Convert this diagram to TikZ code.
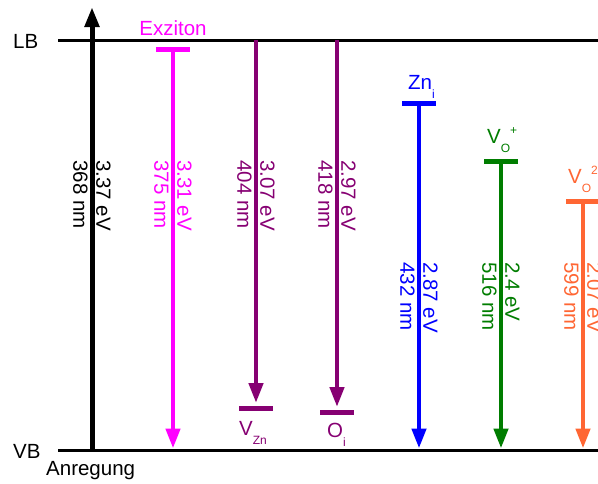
\documentclass[tikz,border=0pt]{standalone}
\usepackage{fontspec}
\setmainfont{Liberation Sans}
\usepackage{tikz}
\usetikzlibrary{arrows.meta}
\definecolor{mymagenta}{RGB}{255,0,255}
\definecolor{mypurple}{RGB}{134,0,114}
\definecolor{myblue}{RGB}{0,0,255}
\definecolor{mygreen}{RGB}{0,125,0}
\definecolor{myorange}{RGB}{255,102,51}
\newcommand{\lsub}[1]{\raisebox{-0.45em}{\fontsize{12}{12}\selectfont #1}}
\newcommand{\lsup}[1]{\raisebox{0.4em}{\fontsize{12}{12}\selectfont #1}}
\tikzset{
  band/.style={line width=3pt, color=black},
  trans/.style={-{Triangle[length=20pt, width=14pt]}, line width=4.5pt, shorten >=1.5pt},
  levelbar/.style={line width=5pt},
  evlabel/.style={rotate=-90, anchor=west, align=left, inner sep=0pt},
  deflabel/.style={anchor=base west, inner sep=0pt}
}
\begin{document}
\begin{tikzpicture}[x=1pt, y=-1pt, every node/.style={font=\fontsize{20.5}{23}\selectfont}]
  \useasboundingbox (0,0) rectangle (598,483);
  \clip (0,0) rectangle (598,483);

  % Bands
  \coordinate (lbL) at (58,40);  \coordinate (lbR) at (600,40);
  \coordinate (vbL) at (58,450); \coordinate (vbR) at (600,450);
  \draw[band] (lbL) -- (lbR);
  \draw[band] (vbL) -- (vbR);
  \node[deflabel] (lb) at (13,48) {LB};
  \node[deflabel] (vb) at (13,458) {VB};

  % --- Anregung ---
  \coordinate (exc) at (92,450);
  \coordinate (exctop) at (92,7);
  \draw[trans, black, line width=5pt, shorten >=0pt] (exc) -- (exctop);
  \node[deflabel] (anr) at (46,475) {Anregung};
  \node[evlabel] (excev) at (92,160) {3.37 eV\\368 nm};

  % --- Exziton ---
  \coordinate (exz) at (173,49);
  \draw[levelbar, mymagenta] (exz) ++(-17,0) -- ++(34,0);
  \draw[trans, mymagenta] (exz) -- (exz |- vbL);
  \node[anchor=base, inner sep=0pt, text=mymagenta] (exzlab) at (173,35) {Exziton};
  \node[evlabel, text=mymagenta] (exzev) at (173,160) {3.31 eV\\375 nm};

  % --- V_Zn ---
  \coordinate (vzn) at (256,408);
  \draw[levelbar, mypurple] (vzn) ++(-17,0) -- ++(34,0);
  \draw[trans, mypurple, shorten >=5pt] (vzn |- lbL) -- (vzn);
  \node[deflabel, text=mypurple] (vznlab) at (239,435) {V\lsub{Zn}};
  \node[evlabel, text=mypurple] (vznev) at (256,160) {3.07 eV\\404 nm};

  % --- O_i ---
  \coordinate (oi) at (337,412);
  \draw[levelbar, mypurple] (oi) ++(-17,0) -- ++(34,0);
  \draw[trans, mypurple, shorten >=5pt] (oi |- lbL) -- (oi);
  \node[deflabel, text=mypurple] (oilab) at (327,437) {O\lsub{i}};
  \node[evlabel, text=mypurple] (oiev) at (337,160) {2.97 eV\\418 nm};

  % --- Zn_i ---
  \coordinate (zni) at (419,103);
  \draw[levelbar, myblue] (zni) ++(-17,0) -- ++(34,0);
  \draw[trans, myblue] (zni) -- (zni |- vbL);
  \node[deflabel, text=myblue] (znilab) at (408,89) {Zn\lsub{i}};
  \node[evlabel, text=myblue] (zniev) at (419,262) {2.87 eV\\432 nm};

  % --- V_O^+ ---
  \coordinate (vo) at (501,161);
  \draw[levelbar, mygreen] (vo) ++(-17,0) -- ++(34,0);
  \draw[trans, mygreen] (vo) -- (vo |- vbL);
  \node[deflabel, text=mygreen] (volab) at (487,143) {V\lsub{O}\lsup{+}};
  \node[evlabel, text=mygreen] (voev) at (501,262) {2.4 eV\\516 nm};

  % --- V_O^2+ ---
  \coordinate (voo) at (583,201);
  \draw[levelbar, myorange] (voo) ++(-17,0) -- ++(34,0);
  \draw[trans, myorange] (voo) -- (voo |- vbL);
  \node[deflabel, text=myorange] (voolab) at (568,183) {V\lsub{O}\lsup{2+}};
  \node[evlabel, text=myorange] (vooev) at (583,262) {2.07 eV\\599 nm};
\end{tikzpicture}
\end{document}
